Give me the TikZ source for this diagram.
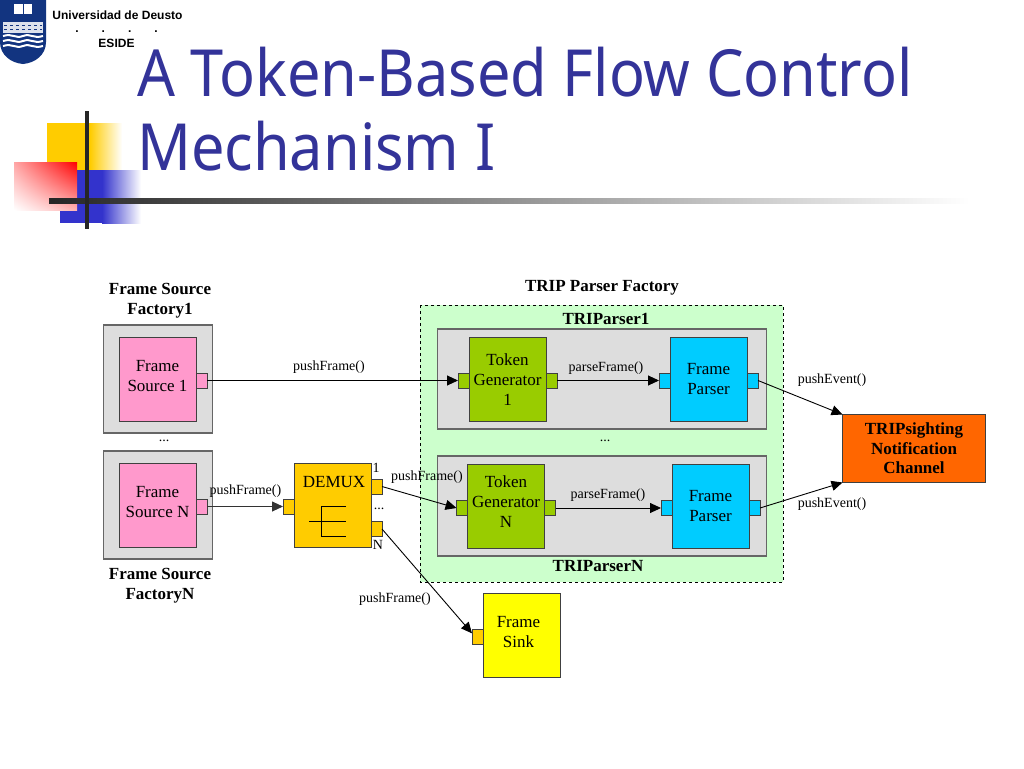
\documentclass[tikz,border=0pt]{standalone}
\usepackage{fontspec}
\setmainfont{Liberation Serif}
\newfontfamily\titlefont[FakeStretch=0.915]{Noto Sans}
\newfontfamily\logofont{Liberation Sans}
\usetikzlibrary{arrows.meta,shadings}
\definecolor{titlecol}{RGB}{51,51,153}
\definecolor{logocol}{RGB}{18,52,128}
\definecolor{decoyellow}{RGB}{255,204,0}
\definecolor{decoblue}{RGB}{51,51,204}
\definecolor{framegray}{RGB}{221,221,221}
\definecolor{sourcecol}{RGB}{255,153,204}
\definecolor{demuxcol}{RGB}{255,204,0}
\definecolor{tokencol}{RGB}{153,204,0}
\definecolor{parsercol}{RGB}{0,204,255}
\definecolor{channelcol}{RGB}{255,102,0}
\definecolor{sinkcol}{RGB}{255,255,0}
\definecolor{factorycol}{RGB}{204,255,204}
\tikzset{
  x=1pt, y=-1pt,
  box/.style={draw=black!75, line width=0.9pt, inner sep=0pt, outer sep=0pt, align=center,
    font=\fontsize{17}{20}\selectfont},
  outerbox/.style={box, fill=framegray, draw=black!60, line width=1.2pt},
  block/.style={box, minimum width=77pt, minimum height=84pt},
  port/.style={box, minimum width=11pt, minimum height=15pt},
  blocktext/.style={inner sep=0pt, align=center, font=\fontsize{17}{20}\selectfont},
  msg/.style={inner sep=0pt, font=\fontsize{14}{16}\selectfont},
  head/.style={inner sep=0pt, align=center, font=\fontsize{17}{20}\selectfont\bfseries},
  flow/.style={draw=black, line width=0.9pt, -{Triangle[length=11pt,width=10pt]}},
  logotext/.style={inner sep=0pt, font=\logofont\fontsize{12}{14}\selectfont\bfseries},
  slidetitle/.style={inner sep=0pt, anchor=base west, text=titlecol, font=\titlefont\fontsize{65}{70}\selectfont}
}

\begin{document}
\begin{tikzpicture}

    \useasboundingbox (0,0) rectangle (1024,768);
    \fill[white] (0,0) rectangle (1024,768);

    % University logo
    \fill[logocol] (0,0) -- (46,0) -- (46,42) .. controls (46,55) and (35,63) .. (23,64)
        .. controls (11,63) and (0,55) .. (0,42) -- cycle;
    \fill[white] (14,4) rectangle (32,14);
    \draw[logocol, line width=0.8pt] (23,4) -- (23,14);
    \fill[white!85!logocol] (3,22) rectangle (43,33);
    \foreach \ypos in {25,29} \draw[logocol, line width=0.8pt, dashed] (4,\ypos) -- (42,\ypos);
    \foreach \ypos in {36,41,46}
        \draw[white, line width=2pt] (3,\ypos) .. controls (13,\ypos-3) and (15,\ypos+3) .. (23,\ypos)
            .. controls (31,\ypos-3) and (33,\ypos+3) .. (43,\ypos);
    \node[logotext] (uni) at (117.5,15.5) {Universidad de Deusto};
    \node[logotext] (dots) at (116.5,32) {.\hspace{23pt}.\hspace{23pt}.\hspace{23pt}.};
    \node[logotext] (eside) at (116.5,43) {ESIDE};

    % Slide decoration
    \fill[decoyellow] (47,123) rectangle (90,170);
    \shade[left color=decoyellow, right color=white] (90,123) rectangle (122,170);
    \fill[decoblue] (60,170) rectangle (102,223);
    \shade[left color=decoblue, right color=white] (102,170) rectangle (141,223);
    \shade[upper right=red, upper left=red!35, lower left=white, lower right=red!30] (14,162) rectangle (77,210);
    \shade[left color=black!85, right color=white] (49,198.5) rectangle (970,203.5);
    \fill[black!85] (85,111) rectangle (89,229);

    % Title
    \node[slidetitle] (title1) at (137,96) {A Token-Based Flow Control};
    \node[slidetitle] (title2) at (137,170) {Mechanism I};

    % Parser factory area
    \fill[factorycol] (420,305) rectangle (783,582);
    \draw[black, line width=0.8pt, dashed] (420,305) rectangle (783,582);

    % Grey frames
    \node[outerbox, minimum width=109pt, minimum height=108pt] (factory1) at (158,379) {};
    \node[outerbox, minimum width=109pt, minimum height=108pt] (factoryN) at (158,505) {};
    \node[outerbox, minimum width=329pt, minimum height=100pt] (parser1) at (602,379) {};
    \node[outerbox, minimum width=329pt, minimum height=100pt] (parserN) at (602,506) {};

    % Blocks
    \node[block, fill=sourcecol] (source1) at (157.5,379.5) {};
    \node[block, fill=sourcecol] (sourceN) at (157.5,505.5) {};
    \node[block, fill=demuxcol] (demux) at (332.5,505.5) {};
    \node[block, fill=tokencol] (token1) at (507.5,379.5) {Token\\Generator\\1};
    \node[block, fill=tokencol] (tokenN) at (506,506.5) {};
    \node[block, fill=parsercol] (parse1) at (708.5,379.5) {Frame\\Parser};
    \node[block, fill=parsercol] (parseN) at (710.5,506.5) {Frame\\Parser};
    \node[block, fill=sinkcol] (sink) at (521.5,635.5) {};
    \node[box, fill=channelcol, minimum width=143pt, minimum height=68pt,
        font=\fontsize{17}{19.5}\selectfont\bfseries] (channel) at (914,448.5) {TRIPsighting\\Notification\\Channel};

    % Block texts set above the block centre
    \node[blocktext] (source1text) at (157.5,376) {Frame\\Source 1};
    \node[blocktext] (sourceNtext) at (157.5,502) {Frame\\Source N};
    \node[blocktext] (demuxtext) at (334,482) {DEMUX};
    \node[blocktext] (tokenNtext) at (506,502) {Token\\Generator\\N};
    \node[blocktext] (sinktext) at (518.5,632) {Frame\\Sink};

    % Ports
    \node[port, fill=sourcecol] (source1out) at (201.5,380.5) {};
    \node[port, fill=sourcecol] (sourceNout) at (201.5,506.5) {};
    \node[port, fill=demuxcol] (demuxin) at (288.5,506.5) {};
    \node[port, fill=demuxcol] (demuxout1) at (376.5,486.5) {};
    \node[port, fill=demuxcol] (demuxoutN) at (376.5,529) {};
    \node[port, fill=tokencol] (token1in) at (463.5,380.5) {};
    \node[port, fill=tokencol] (token1out) at (551.5,380.5) {};
    \node[port, fill=tokencol] (tokenNin) at (462,508) {};
    \node[port, fill=tokencol] (tokenNout) at (550,508) {};
    \node[port, fill=parsercol] (parse1in) at (664.5,380.5) {};
    \node[port, fill=parsercol] (parse1out) at (752.5,380.5) {};
    \node[port, fill=parsercol] (parseNin) at (666.5,508) {};
    \node[port, fill=parsercol] (parseNout) at (754.5,508) {};
    \node[port, fill=demuxcol] (sinkin) at (477.5,636.5) {};

    % Demux symbol
    \draw[black, line width=0.8pt] (309,521) -- (346,521);
    \draw[black, line width=0.8pt] (346,506) -- (321,506) -- (321,536.5) -- (346,536.5);

    % Connectors
    \draw[flow] (source1out.east) -- (token1in.west);
    \draw[flow, draw=black!80] (sourceNout.east) -- (demuxin.west);
    \draw[flow] (demuxout1.east) -- (tokenNin.west);
    \draw[flow] (demuxoutN.east) -- (sinkin.150);
    \draw[flow] (token1out.east) -- (parse1in.west);
    \draw[flow] (tokenNout.east) -- (parseNin.west);
    \draw[flow] (parse1out.east) -- (channel.north west);
    \draw[flow] (parseNout.east) -- (channel.south west);

    % Headings
    \node[head] (head1) at (160,301) {Frame Source\\Factory1};
    \node[head] (headN) at (160,586) {Frame Source\\FactoryN};
    \node[head] (headfactory) at (602,287.5) {TRIP Parser Factory};
    \node[head] (headparser1) at (606,319) {TRIParser1};
    \node[head] (headparserN) at (598,566) {TRIParserN};

    % Message labels
    \node[msg] (pushA) at (329,367.5) {pushFrame()};
    \node[msg] (pushB) at (245.5,491) {pushFrame()};
    \node[msg] (pushC) at (427,477.5) {pushFrame()};
    \node[msg] (pushD) at (395,599) {pushFrame()};
    \node[msg] (parseA) at (606,368.5) {parseFrame()};
    \node[msg] (parseB) at (608,495) {parseFrame()};
    \node[msg] (eventA) at (832,380.5) {pushEvent()};
    \node[msg] (eventB) at (832,504) {pushEvent()};
    \node[msg] (moreA) at (164,441) {...};
    \node[msg] (moreB) at (605,441) {...};
    \node[msg] (moreC) at (379,509) {...};
    \node[msg] (out1) at (376,468) {1};
    \node[msg] (outN) at (378,545) {N};

\end{tikzpicture}
\end{document}
